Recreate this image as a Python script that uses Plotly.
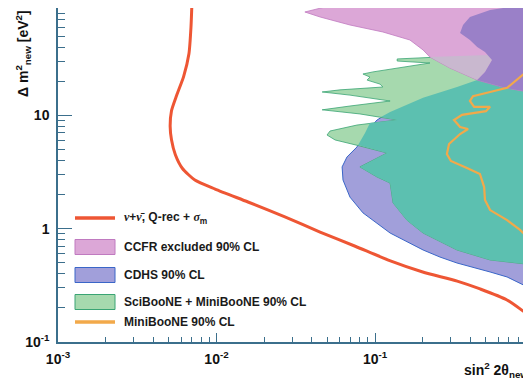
import plotly.graph_objects as go

# ---------------- data (sin^2 2theta_new , Delta m^2_new [eV^2]) ----------------
# nu + nubar, Q-rec + sigma_m sensitivity (red)
red_x = [0.0070, 0.0069, 0.0067, 0.0062, 0.0056, 0.0052, 0.0051, 0.0052, 0.0055, 0.0061,
         0.0073, 0.0098, 0.0158, 0.027, 0.045, 0.075, 0.125, 0.20, 0.33, 0.46, 0.68, 1.0]
red_y = [100, 60, 35, 22, 15, 11, 8.0, 6.1, 4.5, 3.4,
         2.69, 2.24, 1.72, 1.27, 0.935, 0.70, 0.52, 0.415, 0.345, 0.294, 0.235, 0.16]

# MiniBooNE 90% CL (orange)
mb_x = [0.964, 0.681, 0.532, 0.415, 0.397, 0.422, 0.532, 0.501, 0.354, 0.315, 0.344, 0.386,
        0.344, 0.293, 0.284, 0.301, 0.380, 0.459, 0.488, 0.494, 0.532, 0.681, 0.822, 0.964]
mb_y = [26.2, 17.5, 16.1, 14.8, 13.4, 11.9, 11.9, 10.9, 10.1, 9.11, 7.90, 7.59,
        6.85, 5.59, 4.56, 3.96, 3.43, 3.04, 2.33, 1.79, 1.46, 1.19, 0.976, 0.794]

# CDHS 90% CL (region)
cdhs_x = [0.344, 0.359, 0.397, 0.532, 0.711, 1.0, 1.0, 0.681, 0.532, 0.415, 0.329, 0.257,
          0.201, 0.1245, 0.0839, 0.0695, 0.0628, 0.0620, 0.0665, 0.0769, 0.0865, 0.103,
          0.1245, 0.201, 0.329, 0.441, 0.494, 0.547, 0.494, 0.441, 0.397, 0.344]
cdhs_y = [53.4, 62.8, 73.9, 85.1, 90.6, 94.3, 0.288, 0.375, 0.415, 0.459, 0.498, 0.562,
          0.649, 0.916, 1.38, 1.90, 2.69, 3.51, 4.29, 5.26, 7.00, 9.11,
          10.7, 14.3, 17.8, 20.5, 24.2, 30.8, 36.3, 40.2, 46.3, 53.4]

# SciBooNE + MiniBooNE 90% CL (region)
sb_x = [1.0, 0.555, 0.344, 0.232, 0.138, 0.138, 0.222, 0.097, 0.0839, 0.0929, 0.0891, 0.1076,
        0.112, 0.0601, 0.0464, 0.0695, 0.1245, 0.0695, 0.0464, 0.0803, 0.138, 0.0769, 0.0520,
        0.0498, 0.0560, 0.0803, 0.119, 0.0803, 0.103, 0.1245, 0.130, 0.159, 0.201, 0.329,
        0.532, 1.0]
sb_y = [34.1, 34.8, 33.4, 32.7, 31.5, 30.2, 29.0, 24.2, 23.2, 21.8, 20.5, 18.9,
        17.8, 16.8, 16.1, 15.1, 13.4, 12.1, 11.2, 10.3, 9.11, 8.22, 7.28,
        6.71, 6.07, 5.37, 4.66, 3.51, 2.86, 2.53, 1.69, 1.19, 0.916, 0.649,
        0.530, 0.479]

# CCFR excluded 90% CL (region)
ccfr_x = [0.0361, 0.0543, 0.103, 1.0, 1.0, 0.661, 0.441, 0.297, 0.222, 0.201, 0.166, 0.112,
          0.0695, 0.045, 0.0361]
ccfr_y = [81.8, 94.3, 100, 100, 15.8, 17.5, 20.5, 26.2, 32.7, 37.8, 46.3, 54.5,
          62.8, 73.9, 81.8]

# overlap regions as they appear in the picture
cdhs_sb_x = [0.441, 0.329, 0.201, 0.1245, 0.109, 0.138, 0.0929, 0.0865, 0.0782, 0.119, 0.0803,
             0.103, 0.1245, 0.130, 0.159, 0.201, 0.329, 0.532, 1.0, 1.0, 0.661, 0.441]
cdhs_sb_y = [20.5, 17.8, 14.3, 10.7, 9.68, 9.11, 8.57, 7.00, 5.48, 4.66, 3.51,
             2.86, 2.53, 1.69, 1.19, 0.916, 0.649, 0.530, 0.479, 15.8, 17.5, 20.5]
ccfr_sb_x = [0.222, 0.344, 0.516, 0.547, 0.494, 0.441, 0.297, 0.222]
ccfr_sb_y = [32.7, 33.4, 34.1, 30.8, 24.2, 20.5, 26.2, 32.7]
ccfr_cdhs_x = [0.344, 0.359, 0.397, 0.532, 0.711, 1.0, 1.0, 0.661, 0.441, 0.494, 0.547, 0.494,
               0.441, 0.397, 0.344]
ccfr_cdhs_y = [53.4, 62.8, 73.9, 85.1, 90.6, 94.3, 15.8, 17.5, 20.5, 24.2, 30.8, 36.3,
               40.2, 46.3, 53.4]

x_tick_vals = [0.001, 0.01, 0.1]
x_tick_text = ["10<sup>-3</sup>", "10<sup>-2</sup>", "10<sup>-1</sup>"]
y_tick_vals = [0.1, 1, 10]
y_tick_text = ["10<sup>-1</sup>", "1", "10"]

legend_labels = [
    "<span style=\"font-family:'Liberation Serif'\"><i>ν</i></span>+"
    "<span style=\"font-family:'Liberation Serif'\"><i>ν̄</i></span>, Q-rec + "
    "<span style=\"font-family:'Liberation Serif'\"><i>σ</i></span><sub>m</sub>",
    "CCFR excluded 90% CL",
    "CDHS 90% CL",
    "SciBooNE + MiniBooNE 90% CL",
    "MiniBooNE 90% CL",
]

# ---------------- styles ----------------
C_RED = "#ee5634"
C_ORANGE = "#f2a94a"
C_PINK = "#dca7d7"
C_PINK_EDGE = "#c07ac0"
C_PURPLE = "#a19fda"
C_BLUE_EDGE = "#3a66c8"
C_GREEN = "#a6d9ae"
C_GREEN_EDGE = "#3aa474"
C_TEAL = "#5cc0b0"
C_GREY = "#c9b8cf"
C_DPURPLE = "#9a80c8"
C_AXIS = "#3b6f8c"
FONT = "Liberation Sans"

fig = go.Figure()


def region(x, y, color, edge=None, width=0.0, name=None):
    fig.add_trace(go.Scatter(
        x=x, y=y, mode="lines", fill="toself", fillcolor=color,
        line=dict(color=edge or color, width=width),
        hoverinfo="skip", showlegend=False, name=name))


region(cdhs_x, cdhs_y, C_PURPLE, C_BLUE_EDGE, 1.0, "CDHS 90% CL")
region(sb_x, sb_y, C_GREEN, C_GREEN_EDGE, 0.8, "SciBooNE + MiniBooNE 90% CL")
region(cdhs_sb_x, cdhs_sb_y, C_TEAL)
region(ccfr_x, ccfr_y, C_PINK, C_PINK_EDGE, 0.8, "CCFR excluded 90% CL")
region(ccfr_sb_x, ccfr_sb_y, C_GREY)
region(ccfr_cdhs_x, ccfr_cdhs_y, C_DPURPLE)

fig.add_trace(go.Scatter(x=mb_x, y=mb_y, mode="lines", line=dict(color=C_ORANGE, width=2.2),
                         showlegend=False, name="MiniBooNE 90% CL", hoverinfo="skip"))
fig.add_trace(go.Scatter(x=red_x, y=red_y, mode="lines",
                         line=dict(color=C_RED, width=3, shape="spline", smoothing=0.6),
                         showlegend=False, name="nu+nubar, Q-rec + sigma_m", hoverinfo="skip"))

# ---------------- layout ----------------
# the page body has an 8px margin, so the figure is drawn 8px right/down of the window corner
OFF = 8
W, H = 531 - OFF, 385 - OFF
L, R, T, B = 58 - OFF, 531 - OFF, 0, 342 - OFF
DECADE_Y = 113.3          # pixels per decade on the y axis
Y_TOP = -1 + (B - T) / DECADE_Y


def pxx(v):   # window pixel -> paper fraction
    return (v - OFF - L) / (R - L)


def pxy(v):
    return (B - (v - OFF)) / (B - T)


minor_x = [m * 10 ** e for e in (-3, -2, -1) for m in range(2, 10)]
minor_y = [m * 10 ** e for e in (-1, 0, 1) for m in range(2, 10)]

fig.update_layout(
    width=W, height=H,
    margin=dict(l=L, r=W - R, t=T, b=H - B, autoexpand=False),
    paper_bgcolor="white", plot_bgcolor="white",
    showlegend=False,
    xaxis=dict(type="log", range=[-3, -0.016], showline=True, linecolor=C_AXIS,
               linewidth=1.5, mirror=True, ticks="inside", ticklen=9, tickwidth=1.2,
               tickcolor=C_AXIS, tickvals=x_tick_vals, ticktext=x_tick_text,
               tickfont=dict(family=FONT, size=14, color="#111", weight="bold"),
               minor=dict(ticks="inside", ticklen=5, tickwidth=1, tickcolor=C_AXIS,
                          tickvals=minor_x, showgrid=False),
               showgrid=False, zeroline=False, layer="below traces",
               ticklabelstandoff=3, automargin=False),
    yaxis=dict(type="log", range=[-1, Y_TOP], showline=True, linecolor=C_AXIS,
               linewidth=1.5, ticks="inside", ticklen=14, tickwidth=1.2,
               tickcolor=C_AXIS, tickvals=y_tick_vals, ticktext=y_tick_text,
               tickfont=dict(family=FONT, size=14, color="#111", weight="bold"),
               minor=dict(ticks="inside", ticklen=7, tickwidth=1, tickcolor=C_AXIS,
                          tickvals=minor_y, showgrid=False),
               showgrid=False, zeroline=False, layer="below traces",
               ticklabelstandoff=4, automargin=False),
)

shapes = []
annotations = []
rows = [
    ("line", C_RED, None, 218),
    ("box", C_PINK, C_PINK_EDGE, 247),
    ("box", C_PURPLE, C_BLUE_EDGE, 275),
    ("box", C_GREEN, C_GREEN_EDGE, 302),
    ("line", C_ORANGE, None, 322),
]
for (kind, col, edge, yc), label in zip(rows, legend_labels):
    if kind == "line":
        shapes.append(dict(type="line", xref="paper", yref="paper",
                           x0=pxx(75), x1=pxx(115), y0=pxy(yc), y1=pxy(yc),
                           line=dict(color=col, width=3.5)))
    else:
        shapes.append(dict(type="rect", xref="paper", yref="paper",
                           x0=pxx(75), x1=pxx(115), y0=pxy(yc + 7.5), y1=pxy(yc - 7.5),
                           fillcolor=col, line=dict(color=edge, width=1)))
    annotations.append(dict(xref="paper", yref="paper", x=pxx(122), y=pxy(yc),
                            xanchor="left", yanchor="middle", showarrow=False, text=label,
                            font=dict(family=FONT, size=12, color="#1a1a1a", weight="bold")))

annotations.append(dict(xref="paper", yref="paper", x=pxx(23), y=pxy(54),
                        xanchor="center", yanchor="middle", showarrow=False, textangle=-90,
                        text="Δ m<sup>2</sup><sub>new</sub> [eV<sup>2</sup>]",
                        font=dict(family=FONT, size=14, color="#111", weight="bold")))
annotations.append(dict(xref="paper", yref="paper", x=pxx(462), y=pxy(370),
                        xanchor="left", yanchor="middle", showarrow=False,
                        text="sin<sup>2</sup> 2θ<sub>new</sub>",
                        font=dict(family=FONT, size=14, color="#111", weight="bold")))

fig.update_layout(shapes=shapes, annotations=annotations)
fig.write_html("out.html")
